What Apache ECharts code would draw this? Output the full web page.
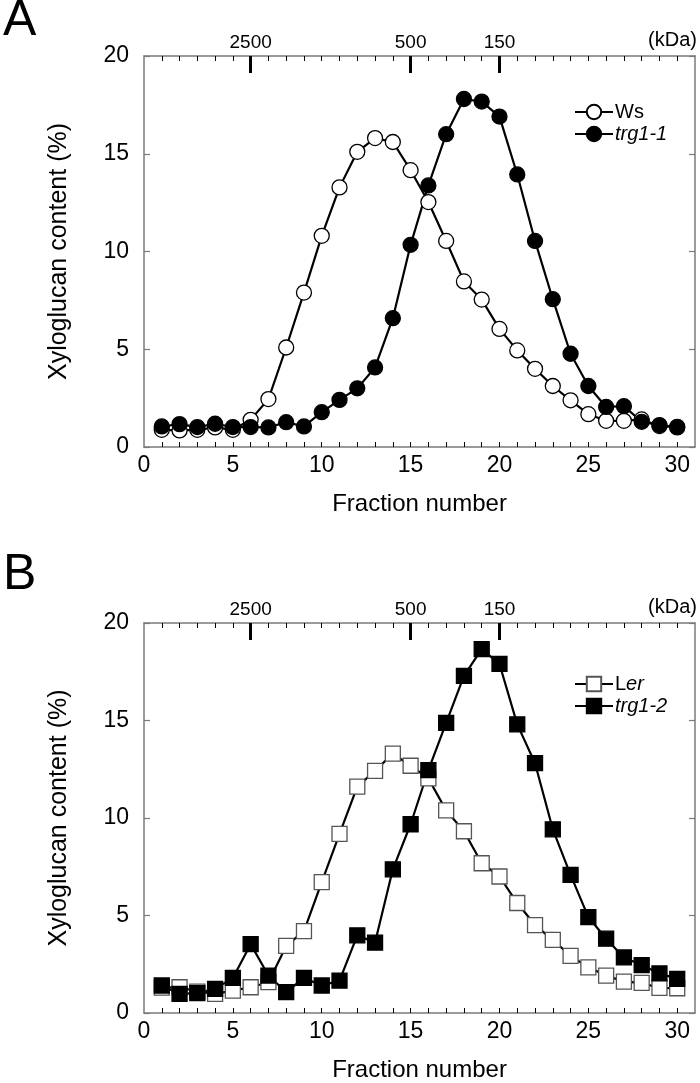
<!DOCTYPE html>
<html>
<head>
<meta charset="utf-8">
<script src="https://cdn.jsdelivr.net/npm/echarts@6/dist/echarts.min.js"></script>
<style>
html,body{margin:0;padding:0;background:#fff;}
#c{width:700px;height:1083px;}
</style>
</head>
<body>
<div id="c"></div>
<script>
// ---- data ----
const fractions = [1,2,3,4,5,6,7,8,9,10,11,12,13,14,15,16,17,18,19,20,21,22,23,24,25,26,27,28,29,30];
const wsA   = [0.88,0.85,0.88,1.00,0.88,1.39,2.45,5.09,7.90,10.80,13.28,15.10,15.80,15.60,14.16,12.53,10.54,8.47,7.54,6.04,4.94,4.00,3.12,2.39,1.68,1.34,1.34,1.41,1.07,1.03];
const trg11 = [1.05,1.17,1.02,1.19,1.02,1.02,1.00,1.27,1.05,1.78,2.41,3.00,4.07,6.59,10.34,13.38,16.00,17.80,17.67,16.90,13.94,10.54,7.56,4.77,3.12,2.05,2.09,1.29,1.12,1.00];
const lerB  = [1.30,1.32,1.10,0.98,1.15,1.32,1.58,3.44,4.20,6.71,9.19,11.61,12.42,13.30,12.68,12.03,10.39,9.32,7.68,7.00,5.64,4.51,3.75,2.93,2.34,1.92,1.61,1.54,1.29,1.27];
const trg12 = [1.41,0.98,1.02,1.24,1.80,3.53,1.92,1.07,1.80,1.41,1.66,3.98,3.61,7.37,9.68,12.46,14.88,17.29,18.66,17.90,14.80,12.81,9.42,7.08,4.92,3.81,2.85,2.46,2.03,1.75];
const xLabelValues = [0,5,10,15,20,25,30];
const kdaPositions = [6,15,20];
const kdaLabels = ['2500','500','150'];
const panelLetters = ['A','B'];

const FONT = "'Liberation Sans', Arial, Helvetica, sans-serif";
const AXC = '#7a7a7a';

function pairs(xs, ys){ return xs.map((x,i)=>[x, ys[i]]); }

const panels = [
  {top:56, height:391, letterTop:-4},
  {top:623, height:393, letterTop:550}
];
const gridLeft = 144, gridRight = 5;

const grid = [], xAxis = [], yAxis = [], series = [], legend = [], graphic = [];

panels.forEach((p, pi) => {
  const g0 = grid.length;
  grid.push({left:gridLeft, right:gridRight, top:p.top, height:p.height});
  grid.push({left:gridLeft, right:gridRight, top:p.top, height:p.height});
  const xb = xAxis.length;
  xAxis.push({
    gridIndex:g0, type:'value', min:0, max:31, position:'bottom',
    axisLine:{show:true, onZero:false, lineStyle:{color:AXC, width:1.5}},
    axisTick:{show:true, inside:true, length:5, customValues:fractions, lineStyle:{color:'#000', width:1}},
    axisLabel:{show:true, customValues:xLabelValues, fontSize:23, color:'#000', fontFamily:FONT, margin:7},
    splitLine:{show:false},
    name:'Fraction number', nameLocation:'middle', nameGap:45,
    nameTextStyle:{fontSize:24, color:'#000', fontFamily:FONT}
  });
  xAxis.push({
    gridIndex:g0, type:'value', min:0, max:31, position:'top',
    axisLine:{show:true, onZero:false, lineStyle:{color:AXC, width:1.5}},
    axisTick:{show:true, inside:true, length:5, customValues:fractions, lineStyle:{color:'#000', width:1}},
    axisLabel:{show:false}, splitLine:{show:false}
  });
  xAxis.push({
    gridIndex:g0+1, type:'value', min:0, max:31, position:'top',
    axisLine:{show:false, onZero:false},
    axisTick:{show:true, inside:true, length:17, customValues:kdaPositions, lineStyle:{color:'#000', width:3}},
    axisLabel:{show:true, customValues:kdaPositions, fontSize:19, color:'#000', fontFamily:FONT, margin:4,
      formatter:(v)=>{const i=kdaPositions.indexOf(v); return i>=0?kdaLabels[i]:'';}},
    splitLine:{show:false}
  });
  const yb = yAxis.length;
  yAxis.push({
    gridIndex:g0, type:'value', min:0, max:20, interval:5, position:'left',
    axisLine:{show:true, onZero:false, lineStyle:{color:AXC, width:1.5}},
    axisTick:{show:true, inside:true, length:6, lineStyle:{color:AXC, width:1.2}},
    axisLabel:{fontSize:23, color:'#000', fontFamily:FONT, margin:15},
    splitLine:{show:false},
    name:'Xyloglucan content (%)', nameLocation:'middle', nameGap:72,
    nameTextStyle:{fontSize:25, color:'#000', fontFamily:FONT}
  });
  yAxis.push({
    gridIndex:g0, type:'value', min:0, max:20, interval:5, position:'right',
    axisLine:{show:true, onZero:false, lineStyle:{color:AXC, width:1.5}},
    axisTick:{show:true, inside:true, length:6, lineStyle:{color:AXC, width:1.2}},
    axisLabel:{show:false}, splitLine:{show:false}
  });
  yAxis.push({gridIndex:g0+1, type:'value', min:0, max:20, show:false, axisLine:{onZero:false}});

  const defs = pi===0 ? [
    {name:'Ws', data:wsA, symbol:'circle', size:15, fill:'#fff', border:'#000'},
    {name:'trg1-1', data:trg11, symbol:'circle', size:15, fill:'#000', border:'#000'}
  ] : [
    {name:'Ler', data:lerB, symbol:'rect', size:15, fill:'#fff', border:'#555'},
    {name:'trg1-2', data:trg12, symbol:'rect', size:15, fill:'#000', border:'#000'}
  ];
  defs.forEach(d => {
    series.push({
      type:'line', name:d.name, xAxisIndex:xb, yAxisIndex:yb,
      data:pairs(fractions, d.data),
      symbol:d.symbol, symbolSize:d.size, showAllSymbol:true,
      lineStyle:{color:'#000', width:2.2},
      itemStyle:{color:d.fill, borderColor:d.border, borderWidth:1.3},
      emphasis:{disabled:true}, animation:false, silent:true
    });
  });
  legend.push({
    data:defs.map(d=>d.name), orient:'vertical',
    left:569, top: pi===0 ? 97 : 669,
    itemWidth:38, itemHeight:18, itemGap:2,
    textStyle:{fontSize:20, color:'#000', fontFamily:FONT, padding:[0,0,0,-3],
      rich:{i:{fontStyle:'italic', fontSize:20, color:'#000', fontFamily:FONT}}},
    formatter:(n)=>{
      if(n==='Ws') return 'Ws';
      if(n==='Ler') return 'L{i|er}';
      return '{i|'+n+'}';
    },
    selectedMode:false
  });
  graphic.push({type:'text', left:3, top: p.letterTop,
    style:{text:panelLetters[pi], font:'50px '+FONT, fill:'#000'}});
  graphic.push({type:'text', right:3, top: p.top - 26,
    style:{text:'(kDa)', font:'20px '+FONT, fill:'#000'}});
});

const chart = echarts.init(document.getElementById('c'), null, {renderer:'canvas'});
chart.setOption({
  animation:false,
  backgroundColor:'#fff',
  grid, xAxis, yAxis, series, legend, graphic
});
</script>
</body>
</html>
